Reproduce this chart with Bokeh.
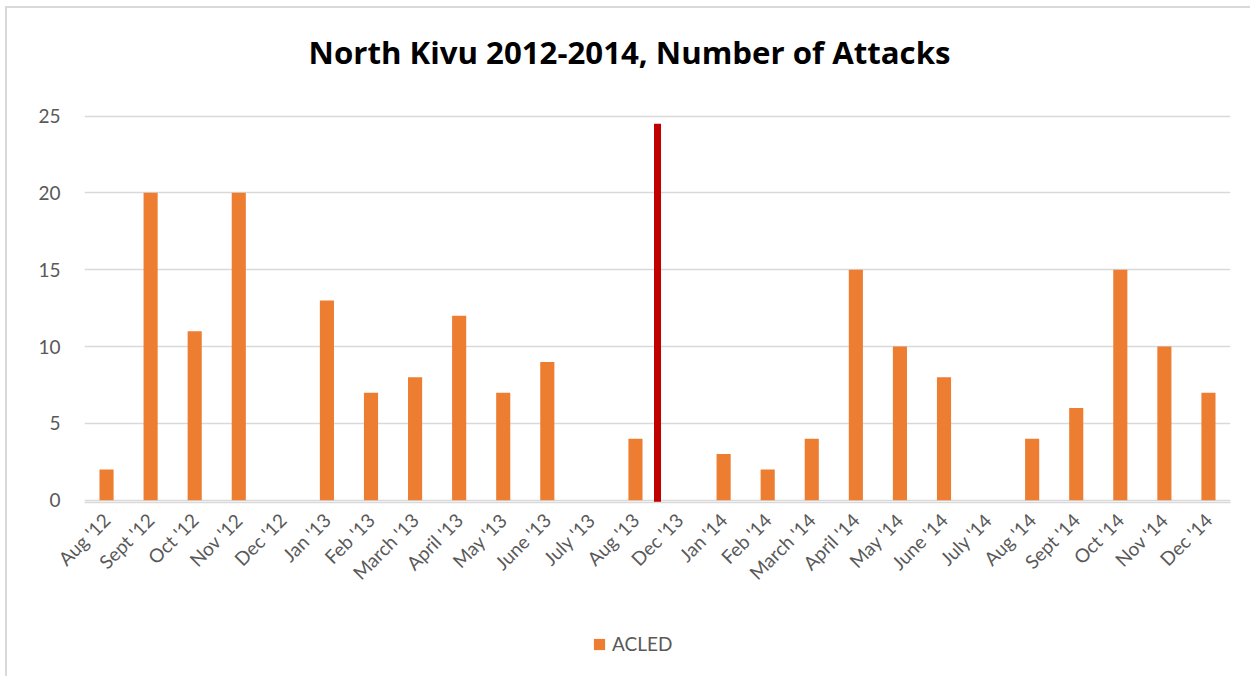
import math

from bokeh.embed import file_html
from bokeh.layouts import column
from bokeh.models import ColumnDataSource, FactorRange, FixedTicker, Label, Legend, Range1d
from bokeh.plotting import figure
from bokeh.resources import INLINE

# Monthly attack counts recorded by ACLED in North Kivu
months = ["Aug '12", "Sept '12", "Oct '12", "Nov '12", "Dec '12", "Jan '13",
          "Feb '13", "March '13", "April '13", "May '13", "June '13", "July '13",
          "Aug '13", "Dec '13", "Jan '14", "Feb '14", "March '14", "April '14",
          "May '14", "June '14", "July '14", "Aug '14", "Sept '14", "Oct '14",
          "Nov '14", "Dec '14"]
attacks = [2, 20, 11, 20, 0, 13, 7, 8, 12, 7, 9, 0, 4, 0, 3, 2, 4, 15, 10, 8,
           0, 4, 6, 15, 10, 7]
y_ticks = [0, 5, 10, 15, 20, 25]
series_name = "ACLED"
chart_title = "North Kivu 2012-2014, Number of Attacks"

# Marker separating the two periods: drawn after this month, up to this height
divider_after = "Aug '13"
divider_top = 24.5
divider_bottom = -0.15

TEXT = "#595959"
FONT = "Lato"
BAR = "#ED7D31"
W = 1243


def bare_strip(height, **kw):
    f = figure(width=W, height=height, output_backend="svg",
               toolbar_location=None, min_border=0, **kw)
    f.axis.visible = False
    f.grid.visible = False
    f.outline_line_color = None
    return f


# Title strip
ttl = bare_strip(96, x_range=Range1d(0, 1), y_range=Range1d(0, 1))
ttl.add_layout(Label(x=0.4756, y=0.552, text=chart_title, text_align="center",
                     text_baseline="middle", text_font="Open Sans",
                     text_font_style="bold", text_font_size="31.2px",
                     text_color="#000000"))

# Main chart
p = figure(
    width=W, height=515,
    x_range=FactorRange(*months, range_padding=0),
    y_range=Range1d(-0.15, 25.1),
    output_backend="svg", toolbar_location=None,
    min_border_left=77, min_border_right=20,
    min_border_top=10, min_border_bottom=117,
)

src = ColumnDataSource(dict(month=months, attacks=attacks))
p.vbar(x="month", top="attacks", width=0.32, source=src,
       fill_color=BAR, line_color=None)

xd = months.index(divider_after) + 1
p.segment(x0=[xd], x1=[xd], y0=[divider_bottom], y1=[divider_top],
          line_color="#C00000", line_width=7)

p.outline_line_color = None
p.xgrid.grid_line_color = None
p.ygrid.grid_line_color = "#d9d9d9"
p.ygrid.grid_line_width = 1.3

p.yaxis.ticker = FixedTicker(ticks=y_ticks)
p.yaxis.axis_line_color = None
p.yaxis.major_tick_line_color = None
p.yaxis.minor_tick_line_color = None
p.yaxis.major_label_text_font = FONT
p.yaxis.major_label_text_font_size = "19px"
p.yaxis.major_label_text_color = TEXT
p.yaxis.major_label_standoff = 18

p.xaxis.axis_line_color = "#d9d9d9"
p.xaxis.axis_line_width = 1.5
p.xaxis.major_tick_line_color = None
p.xaxis.minor_tick_line_color = None
p.xaxis.major_label_orientation = math.pi / 4
p.xaxis.major_label_text_font = FONT
p.xaxis.major_label_text_font_size = "19px"
p.xaxis.major_label_text_color = TEXT
p.xaxis.major_label_standoff = 8

# Legend strip; its renderer shares the series data but its y range lies far
# above the values, so only the legend key shows
lg = bare_strip(57, x_range=FactorRange(*months, range_padding=0),
                y_range=Range1d(100, 101))
key = lg.vbar(x="month", top="attacks", width=0.32, source=src,
              fill_color=BAR, line_color=None)

legend = Legend(items=[(series_name, [key])], orientation="horizontal",
                location=(508, 21), border_line_color=None,
                background_fill_alpha=0,
                glyph_width=14, glyph_height=14, label_standoff=6,
                label_text_font=FONT, label_text_font_size="19px",
                label_text_color=TEXT, margin=0, padding=0)
lg.add_layout(legend, "center")

layout = column(ttl, p, lg, spacing=0)
layout.styles = {
    "margin-left": "5px",
    "margin-top": "6px",
    "border-left": "2px solid #d9d9d9",
    "border-top": "2px solid #d9d9d9",
}

open("out.html", "w").write(file_html(layout, INLINE))
